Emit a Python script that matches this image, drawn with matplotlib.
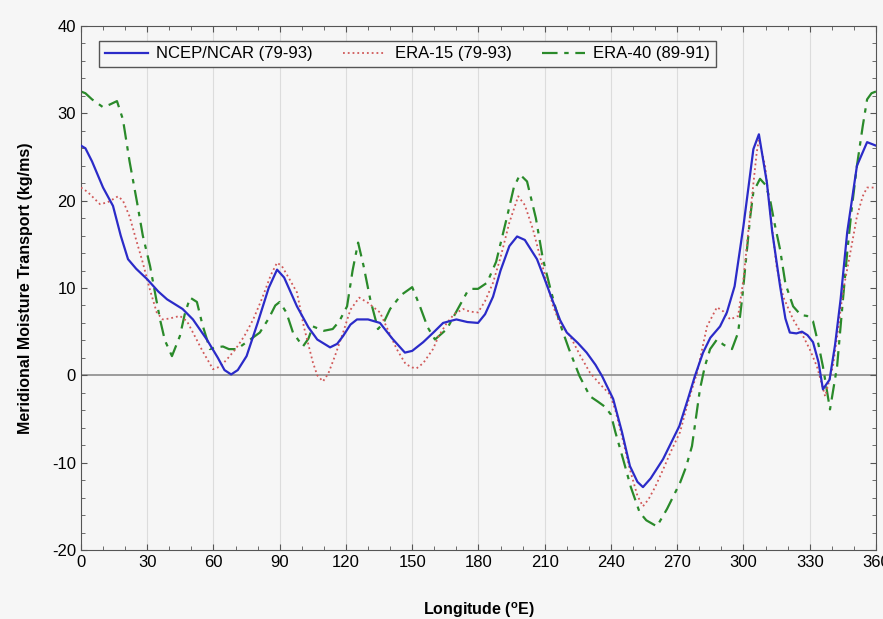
import numpy as np
import matplotlib
matplotlib.use('Agg')
import matplotlib.pyplot as plt
from matplotlib.ticker import MultipleLocator

plt.rcParams['font.family'] = ['Liberation Sans', 'DejaVu Sans']
plt.rcParams['axes.unicode_minus'] = False
plt.rcParams['mathtext.fontset'] = 'custom'
plt.rcParams['mathtext.rm'] = 'Liberation Sans'
plt.rcParams['mathtext.bf'] = 'Liberation Sans:bold'

# NCEP/NCAR (79-93)
ncep_lon = [0, 2, 5, 10, 14.5, 18, 21.3, 25, 30, 35, 39, 46, 50.7, 57, 62, 65, 68, 71, 75, 80,
            85, 88.8, 92, 97.8, 103, 107, 112.8, 116, 118.7, 122, 125, 130, 135.4, 141, 146.7,
            150, 155, 160, 164, 170, 175, 179.8, 183, 186.6, 190, 194, 197.5, 201, 206.5, 210,
            213.8, 217, 220, 225, 229, 233, 236, 241, 245, 248.6, 252, 254.5, 258, 263.6, 271,
            275, 278, 281.7, 285, 289.4, 292.5, 296, 300, 302, 304.5, 307, 310.6, 313, 316.6,
            319, 321, 324, 326.5, 329, 331.5, 334, 336, 339, 341.5, 344, 347, 351.4, 356, 360]
ncep_val = [26.3, 26.0, 24.5, 21.5, 19.4, 16, 13.3, 12.2, 11, 9.6, 8.7, 7.6, 6.4, 4.1, 2.0, 0.6,
            0.1, 0.6, 2.2, 6.0, 10.0, 12.1, 11.2, 7.9, 5.5, 4.1, 3.2, 3.6, 4.5, 5.8, 6.4, 6.4,
            6.0, 4.2, 2.6, 2.8, 3.8, 5.0, 6.0, 6.4, 6.1, 6.0, 7.0, 9.0, 12, 14.8, 15.9, 15.5,
            13.3, 11, 8.4, 6.3, 4.9, 3.7, 2.6, 1.2, -0.1, -2.7, -6.5, -10.4, -12.2, -12.8,
            -11.8, -9.6, -5.8, -2.6, -0.1, 2.6, 4.3, 5.6, 7.2, 10.2, 17.1, 21, 25.9, 27.6, 22.1,
            16.5, 10.2, 6.5, 4.9, 4.8, 5.0, 4.6, 3.8, 1.5, -1.6, -0.5, 3.5, 8.7, 16.4, 24,
            26.7, 26.3]

# ERA-15 (79-93)
era15_lon = [0, 3, 8.6, 12, 16.8, 19, 22, 25, 28, 31, 34.3, 37, 40, 44.8, 48, 50.7, 55, 59.8,
             63, 66, 70, 74, 78, 82, 86, 88.8, 91, 94, 97.8, 101, 105, 107, 109.6, 112, 115,
             118.7, 122, 126, 130, 135.4, 139, 143, 147, 150, 152, 155, 159.4, 162, 165.7, 169,
             173, 176, 179.8, 183, 186.6, 190, 194, 198, 201, 204.7, 209, 213.8, 217, 221.5,
             226, 230.5, 235, 239.6, 242, 245, 248.6, 252, 254.5, 257, 260, 263.6, 267, 271.3,
             275, 279, 283.5, 288, 291, 294, 297.6, 300, 302, 303.9, 306, 307, 309.8, 312, 315,
             318, 322.5, 327, 330, 333.3, 337, 340.5, 343, 345, 348, 351.4, 354, 356, 360]
era15_val = [21.5, 21, 19.6, 19.8, 20.5, 20, 18.2, 15.5, 12.9, 10, 7.2, 6.4, 6.5, 6.8, 6.2, 4.9,
             2.8, 0.7, 1.0, 1.8, 3.0, 4.5, 6.4, 8.8, 11.5, 12.9, 12.5, 11.2, 9.5, 5.5, 1.5, 0.0,
             -0.7, 0.2, 2.2, 4.9, 7.5, 8.9, 8.3, 7.2, 5.2, 3.0, 1.3, 0.9, 0.8, 1.4, 3.0, 4.5,
             6.0, 7.0, 7.6, 7.3, 7.2, 8.5, 10.6, 13.5, 17.5, 20.5, 19.5, 16.7, 12.5, 7.9, 5.9,
             4.5, 2.3, 0.3, -1.0, -2.2, -4.0, -7, -10.8, -13.8, -15, -14.2, -12.8, -10.8, -8.8,
             -6.5, -3, 0.3, 5.6, 7.8, 7.3, 6.4, 6.8, 11, 16, 20.5, 25.5, 27, 24, 19, 12.5, 9,
             6.4, 4.5, 3.0, 1.0, -2.4, 1.0, 5.5, 9.5, 13.5, 18.2, 20.5, 21.5, 21.5]

# ERA-40 (89-91)
era40_lon = [0, 2, 5, 10, 13, 16.3, 19, 22, 25.4, 28, 31.3, 33.5, 35.8, 38, 41.2, 44.8, 47, 49.4,
             52.5, 55, 58.4, 61, 64.3, 67, 70.6, 75, 81, 85, 88, 90, 93, 96, 100.5, 103, 105,
             110, 114, 117, 120.5, 123, 125.5, 128, 131, 134.5, 137, 140, 145, 150, 153.5, 157,
             160.3, 165.7, 170, 174.8, 177, 179.8, 183.9, 188, 193, 196, 198.8, 202, 206, 209.2,
             213, 216.8, 221, 225.8, 230.5, 234, 237.3, 240, 242, 245.5, 249, 253, 256, 260.8,
             265.4, 271.3, 274, 276.7, 280.3, 282.5, 284.9, 288, 291, 294.8, 297.6, 299.5, 301.6,
             303, 304.5, 307.5, 310, 312, 314, 316.6, 319, 322.5, 326, 328.8, 331.5, 334, 336,
             339.2, 342.4, 345, 347, 349, 351.4, 354, 356, 358, 360]
era40_val = [32.5, 32.3, 31.6, 30.7, 31.0, 31.4, 29.3, 24.5, 19.8, 16, 12.5, 9.5, 6.4, 4.0, 2.2,
             4.5, 7.0, 8.9, 8.4, 5.8, 3.0, 3.2, 3.3, 3.0, 3.0, 3.8, 4.9, 6.5, 8.0, 8.4, 7.2, 4.9,
             3.3, 4.2, 5.6, 5.1, 5.3, 6.2, 7.9, 12, 15.2, 12.5, 8.7, 5.3, 6.0, 7.6, 9.2, 10.1,
             7.9, 5.5, 4.1, 5.3, 7.3, 9.5, 9.9, 9.9, 10.6, 13, 18.2, 21.5, 23, 22.2, 18, 13.3,
             9.5, 6.0, 3.0, -0.1, -2.4, -3.0, -3.6, -4.5, -6.5, -9.6, -12.8, -15.7, -16.6, -17.3,
             -15.3, -12.3, -10.5, -8.1, -1.6, 1.0, 3.0, 4.1, 3.5, 3.0, 4.9, 9, 14.4, 18, 21,
             22.5, 21.8, 20.2, 17.5, 14.4, 10.5, 7.9, 6.9, 6.8, 6.2, 3.5, 1.0, -3.9, 1.0, 8.5,
             14.1, 19, 24, 28.5, 31.6, 32.3, 32.5]

bg = '#f6f6f6'
fig = plt.figure(figsize=(8.83, 6.19), dpi=100, facecolor=bg)
ax = fig.add_axes([0.0917, 0.1115, 0.9003, 0.8465], facecolor=bg)

# vertical grid at the labelled longitudes, zero line
for x in range(30, 360, 30):
    ax.axvline(x, color='#dcdcdc', lw=0.8, zorder=0)
ax.axhline(0, color='#8c8c8c', lw=1.2, zorder=1)

ax.plot(ncep_lon, ncep_val, color='#2b2bc8', lw=1.6, label='NCEP/NCAR (79-93)', zorder=4)
ax.plot(era15_lon, era15_val, color='#d05858', lw=1.3, ls=':', label='ERA-15 (79-93)', zorder=3)
ax.plot(era40_lon, era40_val, color='#2a8a2a', lw=1.6, dashes=(7, 3, 2, 3),
        label='ERA-40 (89-91)', zorder=2)

ax.set_xlim(0, 360)
ax.set_ylim(-20, 40)
ax.xaxis.set_major_locator(MultipleLocator(30))
ax.xaxis.set_minor_locator(MultipleLocator(10))
ax.yaxis.set_major_locator(MultipleLocator(10))
ax.yaxis.set_minor_locator(MultipleLocator(2))
ax.tick_params(which='both', direction='in', top=True, right=True, color='#555555',
               labelsize=12)
ax.tick_params(which='major', length=4)
ax.tick_params(which='minor', length=3)
for s in ax.spines.values():
    s.set_color('#555555')

ax.set_xlabel(r'Longitude ($^{\mathbf{o}}$E)', fontsize=11.5, fontweight='bold', labelpad=22)
ax.set_ylabel('Meridional Moisture Transport (kg/ms)', fontsize=11.5, fontweight='bold',
              labelpad=14)

leg = ax.legend(loc='upper left', bbox_to_anchor=(0.012, 0.988), ncol=3, fontsize=12,
                fancybox=False, framealpha=1, facecolor=bg, edgecolor='#555555',
                handlelength=2.6, columnspacing=1.8, borderpad=0.35, handletextpad=0.5)
leg.get_frame().set_linewidth(1.0)

fig.savefig('out.png', dpi=100, facecolor=bg)
